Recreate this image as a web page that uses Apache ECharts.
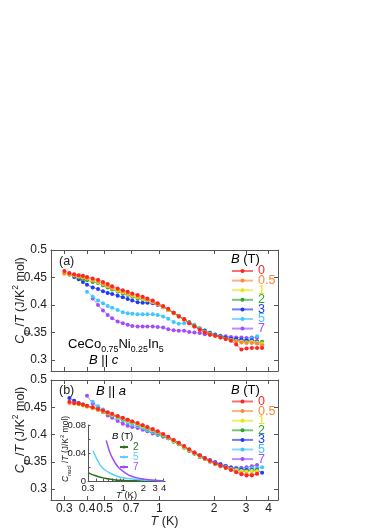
<!DOCTYPE html>
<html>
<head>
<meta charset="utf-8">
<script src="https://cdn.jsdelivr.net/npm/echarts@6/dist/echarts.min.js"></script>
<style>
  html, body { margin: 0; padding: 0; background: #fff; }
  #chart { width: 374px; height: 529px; }
</style>
</head>
<body>
<div id="chart"></div>
<script>
// temperature grid (K), shared by both panels
const temps = [0.30, 0.32, 0.34, 0.36, 0.38, 0.40, 0.43, 0.46, 0.49, 0.52, 0.55, 0.59, 0.63, 0.67, 0.71, 0.76, 0.81, 0.86, 0.92, 0.98,
  1.05, 1.12, 1.20, 1.28, 1.37, 1.46, 1.56, 1.67, 1.78, 1.90, 2.03, 2.17, 2.32, 2.48, 2.65, 2.83, 3.02, 3.23, 3.45, 3.68]

// field labels (T)
const fields = ['0', '0.5', '1', '2', '3', '5', '7']

// (a) B || c, C_p/T (J/K^2 mol)
const cpA0 = [0.462, 0.458, 0.456, 0.454, 0.453, 0.451, 0.448, 0.446, 0.442, 0.438, 0.434, 0.430, 0.427, 0.424, 0.421, 0.418, 0.415, 0.412, 0.408, 0.403,
  0.398, 0.393, 0.386, 0.379, 0.374, 0.367, 0.361, 0.355, 0.350, 0.346, 0.344, 0.341, 0.338, 0.335, 0.328, 0.319, 0.321, 0.322, 0.322, 0.322]
const cpA05 = [0.457, 0.456, 0.455, 0.453, 0.451, 0.449, 0.446, 0.443, 0.439, 0.435, 0.431, 0.428, 0.425, 0.422, 0.419, 0.416, 0.413, 0.410, 0.406, 0.402,
  0.397, 0.392, 0.385, 0.379, 0.373, 0.367, 0.361, 0.356, 0.351, 0.347, 0.344, 0.341, 0.338, 0.336, 0.334, 0.332, 0.331, 0.331, 0.330, 0.327]
const cpA1 = [0.458, 0.456, 0.454, 0.452, 0.450, 0.448, 0.445, 0.442, 0.438, 0.434, 0.430, 0.426, 0.423, 0.420, 0.417, 0.414, 0.411, 0.409, 0.405, 0.401,
  0.396, 0.391, 0.385, 0.379, 0.373, 0.367, 0.361, 0.356, 0.351, 0.347, 0.344, 0.341, 0.338, 0.336, 0.334, 0.333, 0.332, 0.333, 0.332, 0.330]
const cpA2 = [null, 0.455, 0.453, 0.450, 0.447, 0.445, 0.442, 0.440, 0.436, 0.432, 0.428, 0.424, 0.421, 0.418, 0.415, 0.412, 0.410, 0.408, 0.406, 0.402,
  0.396, 0.391, 0.386, 0.380, 0.374, 0.368, 0.362, 0.357, 0.352, 0.348, 0.345, 0.342, 0.339, 0.337, 0.335, 0.334, 0.333, 0.333, 0.331, 0.333]
const cpA3 = [null, null, 0.451, 0.447, 0.442, 0.437, 0.432, 0.429, 0.425, 0.422, 0.420, 0.417, 0.414, 0.411, 0.408, 0.405, 0.404, 0.404, 0.403, 0.400,
  0.396, 0.391, 0.386, 0.380, 0.374, 0.368, 0.362, 0.357, 0.353, 0.349, 0.346, 0.343, 0.341, 0.339, 0.338, 0.337, 0.336, 0.336, 0.334, 0.328]
const cpA5 = [null, null, null, null, null, 0.424, 0.415, 0.408, 0.403, 0.398, 0.395, 0.391, 0.387, 0.385, 0.384, 0.383, 0.383, 0.383, 0.383, 0.382,
  0.379, 0.375, 0.369, 0.366, 0.367, 0.369, 0.364, 0.358, 0.354, 0.350, 0.347, 0.344, 0.341, 0.339, 0.337, 0.336, 0.337, 0.339, 0.343, null]
const cpA7 = [null, null, null, null, null, null, 0.412, 0.400, 0.390, 0.382, 0.376, 0.370, 0.367, 0.364, 0.362, 0.361, 0.361, 0.361, 0.361, 0.360,
  0.359, 0.356, 0.354, 0.353, 0.353, 0.351, 0.350, 0.349, 0.347, 0.346, 0.345, 0.344, 0.343, 0.342, 0.341, 0.341, 0.340, 0.341, 0.341, null]

// (b) B || a
const cpB0 = [null, 0.460, 0.458, 0.457, 0.455, 0.453, 0.450, 0.447, 0.444, 0.441, 0.438, 0.434, 0.431, 0.427, 0.424, 0.421, 0.417, 0.414, 0.410, 0.406,
  0.401, 0.396, 0.390, 0.385, 0.379, 0.373, 0.367, 0.362, 0.356, 0.352, 0.347, 0.343, 0.339, 0.335, 0.331, 0.327, 0.325, 0.325, 0.328, null]
const cpB05 = [null, 0.458, 0.457, 0.456, 0.454, 0.452, 0.449, 0.446, 0.443, 0.440, 0.437, 0.433, 0.430, 0.427, 0.424, 0.420, 0.417, 0.413, 0.409, 0.405,
  0.400, 0.395, 0.390, 0.384, 0.378, 0.372, 0.366, 0.361, 0.356, 0.351, 0.347, 0.343, 0.339, 0.336, 0.332, 0.329, 0.327, 0.327, 0.328, null]
const cpB1 = [null, null, 0.457, 0.455, 0.453, 0.451, 0.448, 0.445, 0.442, 0.439, 0.436, 0.432, 0.429, 0.425, 0.422, 0.419, 0.415, 0.412, 0.408, 0.404,
  0.399, 0.394, 0.388, 0.383, 0.377, 0.371, 0.366, 0.360, 0.355, 0.351, 0.347, 0.343, 0.340, 0.337, 0.335, 0.333, 0.332, 0.333, 0.333, null]
const cpB2 = [null, null, null, 0.456, 0.454, 0.452, 0.448, 0.445, 0.442, 0.439, 0.435, 0.432, 0.428, 0.425, 0.422, 0.418, 0.415, 0.411, 0.407, 0.403,
  0.398, 0.393, 0.387, 0.382, 0.376, 0.370, 0.365, 0.359, 0.355, 0.350, 0.346, 0.342, 0.339, 0.336, 0.334, 0.333, 0.333, 0.334, 0.334, null]
const cpB3 = [null, 0.467, 0.462, 0.458, 0.455, 0.452, 0.449, 0.446, 0.443, 0.440, 0.436, 0.433, 0.429, 0.426, 0.423, 0.419, 0.416, 0.412, 0.408, 0.404,
  0.399, 0.394, 0.388, 0.383, 0.377, 0.372, 0.366, 0.361, 0.357, 0.353, 0.349, 0.345, 0.342, 0.339, 0.337, 0.336, 0.335, 0.335, 0.335, 0.330]
const cpB5 = [null, null, null, null, null, null, 0.460, 0.452, 0.446, 0.440, 0.435, 0.430, 0.426, 0.422, 0.418, 0.415, 0.412, 0.408, 0.404, 0.400,
  0.397, 0.393, 0.388, 0.383, 0.377, 0.371, 0.366, 0.361, 0.356, 0.352, 0.348, 0.345, 0.342, 0.339, 0.338, 0.337, 0.337, 0.338, 0.339, 0.340]
const cpB7 = [null, null, null, null, null, 0.471, 0.457, 0.449, 0.441, 0.435, 0.431, 0.425, 0.420, 0.416, 0.414, 0.412, 0.409, 0.406, 0.402, 0.399,
  0.396, 0.393, 0.388, 0.383, 0.377, 0.372, 0.367, 0.362, 0.357, 0.353, 0.349, 0.346, 0.343, 0.340, 0.339, 0.339, 0.340, 0.342, 0.344, null]

// inset: C_nucl/T for B || a
const insetT2 = [0.30, 0.34, 0.38, 0.43, 0.48, 0.54, 0.62, 0.72, 0.92, 1.2, 1.5, 2.0, 2.7, 4.0]
const insetC2 = [0.0119, 0.0095, 0.0078, 0.0062, 0.0050, 0.0038, 0.0027, 0.0019, 0.0010, 0.0005, 0.0003, 0.0001, 0.0001, 0]
const insetT5 = [0.356, 0.38, 0.40, 0.43, 0.45, 0.49, 0.54, 0.60, 0.68, 0.78, 0.92, 1.1, 1.47, 2.0, 2.64, 4.0]
const insetC5 = [0.0433, 0.037, 0.0324, 0.027, 0.0235, 0.019, 0.0157, 0.0127, 0.010, 0.0075, 0.0053, 0.0038, 0.0024, 0.0015, 0.001, 0.0004]
const insetT7 = [0.56, 0.60, 0.64, 0.70, 0.77, 0.86, 0.97, 1.1, 1.3, 1.55, 1.86, 2.25, 2.64, 3.2, 4.0]
const insetC7 = [0.058, 0.048, 0.040, 0.032, 0.025, 0.019, 0.0147, 0.011, 0.0071, 0.0048, 0.0033, 0.0021, 0.0014, 0.0008, 0.0004]

// tick labels
const xTicks = [0.3, 0.4, 0.5, 0.7, 1, 2, 3, 4]
const yTicks = [0.3, 0.35, 0.4, 0.45, 0.5]
const insetXTicks = [0.3, 1, 2, 3, 4]
const insetXMinor = [0.3, 0.4, 0.5, 0.6, 0.7, 0.8, 0.9, 1, 2, 3, 4]
const insetYTicks = [0, 0.04, 0.08]
const insetYMinor = [0, 0.02, 0.04, 0.06, 0.08]

const FONT = 'Liberation Sans, Arial, sans-serif'
const TEXT = '#222'
const FRAME = '#555'
const colors = ['#ff2424', '#ff8838', '#e6e614', '#2da82d', '#2236ff', '#3fc6ff', '#a04cff']
const insetColors = { i2: '#2c6e1c', i5: '#5cd0ff', i7: '#9a4cff' }

const panelA = [cpA0, cpA05, cpA1, cpA2, cpA3, cpA5, cpA7]
const panelB = [cpB0, cpB05, cpB1, cpB2, cpB3, cpB5, cpB7]

const lg = Math.log10
const fmtT = v => String(+Math.pow(10, v).toFixed(2))

function pairs(ts, vs) {
  const out = []
  ts.forEach((t, i) => {
    if (vs[i] != null) out.push([lg(t), vs[i]])
  })
  return out
}

function rich(size, lh) {
  return {
    n: { fontSize: size, fontFamily: FONT, color: TEXT, lineHeight: lh },
    i: { fontSize: size, fontFamily: FONT, color: TEXT, fontStyle: 'italic', lineHeight: lh },
    s: { fontSize: size * 0.68, fontFamily: FONT, color: TEXT, verticalAlign: 'bottom' },
    u: { fontSize: size * 0.68, fontFamily: FONT, color: TEXT, verticalAlign: 'top' },
  }
}

const frameLine = { show: true, onZero: false, lineStyle: { color: FRAME, width: 1 } }

// main panel axes: bottom + mirrored top, left + mirrored right
function mainX(grid, labels) {
  const base = {
    type: 'value', gridIndex: grid, min: lg(0.2535), max: lg(4.5),
    splitLine: { show: false },
    axisLine: frameLine,
    axisTick: { show: true, inside: true, length: 4, customValues: xTicks.map(lg), lineStyle: { color: FRAME } },
  }
  return [
    {
      ...base, position: 'bottom',
      axisLabel: {
        show: labels, customValues: xTicks.map(lg), formatter: fmtT, margin: 3,
        fontSize: 12, fontFamily: FONT, color: TEXT,
      },
      name: labels ? '{i|T}{n| (K)}' : '', nameLocation: 'middle', nameGap: 14, nameMoveOverlap: false,
      nameTextStyle: { rich: rich(12.5, 16) },
    },
    { ...base, position: 'top', axisLabel: { show: false } },
  ]
}

function mainY(grid) {
  const base = {
    type: 'value', gridIndex: grid, min: 0.28, max: 0.5,
    splitLine: { show: false },
    axisLine: frameLine,
    axisTick: { show: true, inside: true, length: 4, customValues: yTicks, lineStyle: { color: FRAME } },
  }
  return [
    {
      ...base, position: 'left',
      axisLabel: {
        customValues: yTicks, formatter: v => String(+v.toFixed(2)), margin: 4,
        fontSize: 12, fontFamily: FONT, color: TEXT,
      },
      name: '{i|C}{s|p}{n| /}{i|T}{n| (J/K}{u|2}{n| mol)}',
      nameLocation: 'middle', nameRotate: 90, nameGap: 20, nameMoveOverlap: false,
      nameTextStyle: { rich: rich(12.5, 20), padding: [0, 0, 0, 20] },
    },
    { ...base, position: 'right', axisLabel: { show: false } },
  ]
}

function panelSeries(panel, xi, yi) {
  const out = []
  for (let k = panel.length - 1; k >= 0; k--) {
    out.push({
      type: 'line', name: fields[k], xAxisIndex: xi, yAxisIndex: yi,
      data: pairs(temps, panel[k]),
      symbol: 'circle', symbolSize: 4, showSymbol: true,
      itemStyle: { color: colors[k] },
      lineStyle: { color: colors[k], width: 1, opacity: 0.65 },
      emphasis: { disabled: true },
    })
  }
  return out
}

function insetSeries(name, ts, cs) {
  return {
    type: 'line', name, xAxisIndex: 4, yAxisIndex: 4,
    data: ts.map((t, i) => [lg(t), cs[i]]),
    symbol: 'none', smooth: 0.3,
    lineStyle: { color: insetColors[name], width: 1.5 },
    itemStyle: { color: insetColors[name] },
    emphasis: { disabled: true },
  }
}

function mainLegend(top) {
  return {
    orient: 'vertical', left: 226, top, itemGap: -3.4, itemWidth: 21, itemHeight: 5,
    selectedMode: false,
    data: fields.map((f, k) => ({ name: f, textStyle: { color: colors[k] } })),
    textStyle: { fontSize: 12.5, fontFamily: FONT },
  }
}

const option = {
  animation: false,
  backgroundColor: '#fff',
  grid: [
    { left: 51, top: 250, width: 227, height: 121, outerBoundsMode: 'none' },
    { left: 51, top: 380, width: 227, height: 120, outerBoundsMode: 'none' },
    { left: 88, top: 425, width: 77, height: 56, outerBoundsMode: 'none' },
  ],
  xAxis: [
    ...mainX(0, false),
    ...mainX(1, true),
    {
      type: 'value', gridIndex: 2, min: lg(0.3), max: lg(4.2), position: 'bottom',
      splitLine: { show: false },
      axisLine: frameLine,
      axisTick: { show: true, inside: true, length: 2.5, customValues: insetXMinor.map(lg), lineStyle: { color: FRAME } },
      axisLabel: {
        customValues: insetXTicks.map(lg), formatter: fmtT, margin: 2,
        fontSize: 9.5, fontFamily: FONT, color: TEXT,
      },
      name: '{i|T}{n| (K)}', nameLocation: 'middle', nameGap: 8, nameMoveOverlap: false,
      nameTextStyle: { rich: rich(9.5, 12) },
    },
  ],
  yAxis: [
    ...mainY(0),
    ...mainY(1),
    {
      type: 'value', gridIndex: 2, min: 0, max: 0.08, position: 'left',
      splitLine: { show: false },
      axisLine: frameLine,
      axisTick: { show: true, inside: true, length: 2.5, customValues: insetYMinor, lineStyle: { color: FRAME } },
      axisLabel: {
        customValues: insetYTicks, formatter: v => String(+v.toFixed(2)), margin: 2,
        fontSize: 9.5, fontFamily: FONT, color: TEXT,
      },
      name: '{i|C}{s|nucl}{n| /}{i|T}{n| (J/K}{u|2}{n| mol)}',
      nameLocation: 'middle', nameRotate: 90, nameGap: 16, nameMoveOverlap: false,
      nameTextStyle: { rich: rich(8.5, 13), padding: [0, 0, 0, 8] },
    },
  ],
  legend: [
    mainLegend(259.5),
    mainLegend(390),
    {
      orient: 'vertical', left: 114, top: 437, itemGap: 0, itemWidth: 8, itemHeight: 4,
      selectedMode: false,
      data: ['i2', 'i5', 'i7'].map(n => ({ name: n, textStyle: { color: insetColors[n] } })),
      formatter: n => n.slice(1),
      textStyle: { fontSize: 10, fontFamily: FONT },
    },
  ],
  graphic: [
    { type: 'text', x: 59, y: 262, style: { text: '(a)', font: '12.5px ' + FONT, fill: TEXT, verticalAlign: 'middle' } },
    {
      type: 'text', x: 68, y: 344,
      style: { text: '{n|CeCo}{s|0.75}{n|Ni}{s|0.25}{n|In}{s|5}', rich: rich(13, 20), verticalAlign: 'middle' },
    },
    { type: 'text', x: 89, y: 360, style: { text: '{i|B}{n| || }{i|c}', rich: rich(13, 16), verticalAlign: 'middle' } },
    { type: 'text', x: 231, y: 259, style: { text: '{i|B}{n| (T)}', rich: rich(13, 16), verticalAlign: 'middle' } },
    { type: 'text', x: 59, y: 391, style: { text: '(b)', font: '12.5px ' + FONT, fill: TEXT, verticalAlign: 'middle' } },
    { type: 'text', x: 96, y: 391, style: { text: '{i|B}{n| || }{i|a}', rich: rich(13, 16), verticalAlign: 'middle' } },
    { type: 'text', x: 231, y: 390, style: { text: '{i|B}{n| (T)}', rich: rich(13, 16), verticalAlign: 'middle' } },
    { type: 'text', x: 112, y: 436, style: { text: '{i|B}{n| (T)}', rich: rich(9.5, 12), verticalAlign: 'middle' } },
  ],
  series: [
    ...panelSeries(panelA, 0, 0),
    ...panelSeries(panelB, 2, 2),
    insetSeries('i2', insetT2, insetC2),
    insetSeries('i5', insetT5, insetC5),
    insetSeries('i7', insetT7, insetC7),
  ],
}

const chart = echarts.init(document.getElementById('chart'), null, { renderer: 'canvas' })
chart.setOption(option)
</script>
</body>
</html>
